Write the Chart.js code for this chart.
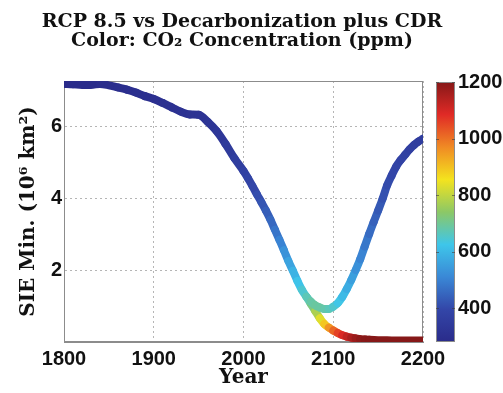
<!DOCTYPE html>
<html>
<head>
<meta charset="utf-8">
<script src="https://cdn.jsdelivr.net/npm/chart.js@4.4.1/dist/chart.umd.min.js"></script>
<style>
  html, body { margin: 0; padding: 0; background: #fff; }
  #wrap { position: relative; width: 503px; height: 393px; }
  #main { position: absolute; left: 0; top: 0; }
  #cbar { position: absolute; left: 430px; top: 62px; }
</style>
</head>
<body>
<div id="wrap">
  <canvas id="main" width="503" height="393"></canvas>
  <canvas id="cbar" width="73" height="300"></canvas>
</div>
<script>
// shared path (both scenarios identical until ~2070)
const yearsShared = [1800, 1810, 1820, 1830, 1840, 1850, 1860, 1870, 1880, 1890,
  1900, 1910, 1920, 1930, 1940, 1950, 1960, 1970, 1980, 1990,
  2000, 2005, 2010, 2015, 2020, 2025, 2030, 2035, 2040, 2045,
  2050, 2055, 2060, 2065, 2070];
const sieShared = [7.17, 7.16, 7.14, 7.14, 7.17, 7.13, 7.07, 7.01, 6.93, 6.83,
  6.75, 6.64, 6.52, 6.40, 6.32, 6.31, 6.12, 5.86, 5.50, 5.10,
  4.75, 4.55, 4.33, 4.10, 3.88, 3.65, 3.40, 3.12, 2.84, 2.55,
  2.25, 1.98, 1.70, 1.45, 1.26];
const co2Shared = [280, 283, 284, 285, 286, 288, 290, 292, 295, 297,
  300, 303, 306, 309, 311, 313, 317, 326, 339, 354,
  370, 380, 390, 401, 414, 428, 445, 465, 488, 515,
  545, 575, 605, 635, 660];

// decarbonization plus CDR branch
const yearsDecarb = [2075, 2080, 2085, 2090, 2095, 2100, 2105, 2110, 2115, 2120,
  2125, 2130, 2135, 2140, 2145, 2150, 2155, 2160, 2165, 2170,
  2175, 2180, 2185, 2190, 2195, 2200];
const sieDecarb = [1.12, 1.02, 0.96, 0.92, 0.92, 0.98, 1.08, 1.25, 1.47, 1.72,
  2.00, 2.30, 2.65, 3.00, 3.33, 3.65, 3.98, 4.35, 4.62, 4.87,
  5.05, 5.20, 5.35, 5.47, 5.57, 5.65];
const co2Decarb = [680, 690, 690, 685, 675, 660, 640, 615, 590, 565,
  540, 515, 490, 470, 450, 435, 420, 408, 398, 390,
  382, 375, 369, 364, 359, 355];

// RCP 8.5 branch
const yearsRcp = [2075, 2080, 2085, 2090, 2095, 2100, 2105, 2110, 2115, 2120,
  2125, 2130, 2135, 2140, 2150, 2160, 2170, 2180, 2190, 2200];
const sieRcp = [1.06, 0.86, 0.66, 0.50, 0.40, 0.32, 0.25, 0.19, 0.15, 0.12,
  0.10, 0.08, 0.07, 0.06, 0.05, 0.05, 0.04, 0.04, 0.04, 0.04];
const co2Rcp = [690, 745, 805, 860, 925, 990, 1035, 1075, 1110, 1140,
  1165, 1185, 1195, 1200, 1200, 1200, 1200, 1200, 1200, 1200];

const xTicks = [1800, 1900, 2000, 2100, 2200];
const yTicks = [2, 4, 6];
const cbarTicks = [400, 600, 800, 1000, 1200];

// colormap (jet-like, as printed)
const cmapPpm = [280, 395, 510, 625, 740, 855, 970, 1085, 1200];
const cmapColors = ['#2a2b8a', '#3346a8', '#3a88d6', '#3ec6ea', '#8cc866',
  '#f4e31e', '#f08a24', '#e02a26', '#861818'];

function hexRgb(h) {
  return [parseInt(h.slice(1, 3), 16), parseInt(h.slice(3, 5), 16), parseInt(h.slice(5, 7), 16)];
}
function colorFor(v) {
  if (v <= cmapPpm[0]) return cmapColors[0];
  for (let i = 1; i < cmapPpm.length; i++) {
    if (v <= cmapPpm[i]) {
      const t = (v - cmapPpm[i - 1]) / (cmapPpm[i] - cmapPpm[i - 1]);
      const a = hexRgb(cmapColors[i - 1]), b = hexRgb(cmapColors[i]);
      const c = a.map((x, k) => Math.round(x + (b[k] - x) * t));
      return 'rgb(' + c.join(',') + ')';
    }
  }
  return cmapColors[cmapColors.length - 1];
}

const toPts = (xs, ys) => xs.map((x, i) => ({ x: x, y: ys[i] }));
const lastIdx = yearsShared.length - 1;

const decarbPts = toPts(yearsShared, sieShared).concat(toPts(yearsDecarb, sieDecarb));
const decarbCo2 = co2Shared.concat(co2Decarb);
const rcpPts = [{ x: yearsShared[lastIdx], y: sieShared[lastIdx] }].concat(toPts(yearsRcp, sieRcp));
const rcpCo2 = [co2Shared[lastIdx]].concat(co2Rcp);

const segColor = co2 => ctx => colorFor((co2[ctx.p0DataIndex] + co2[ctx.p1DataIndex]) / 2);

const serif = 'DejaVu Serif, serif';
const sans = 'Liberation Sans, Arial, sans-serif';
const plain = v => String(v);

const boxPlugin = {
  id: 'box',
  beforeDatasetsDraw(chart) {
    const { ctx, chartArea: a } = chart;
    ctx.save();
    ctx.strokeStyle = '#8c8c8c';
    ctx.lineWidth = 1;
    ctx.strokeRect(a.left + 0.5, a.top + 0.5, a.width - 1, a.height - 1);
    ctx.restore();
  }
};

const lineStyle = {
  pointRadius: 0,
  borderWidth: 8,
  borderCapStyle: 'round',
  borderJoinStyle: 'round',
  cubicInterpolationMode: 'monotone',
  fill: false
};

new Chart(document.getElementById('main'), {
  type: 'line',
  data: {
    datasets: [
      Object.assign({ label: 'Decarbonization plus CDR', data: decarbPts,
        segment: { borderColor: segColor(decarbCo2) } }, lineStyle),
      Object.assign({ label: 'RCP 8.5', data: rcpPts,
        segment: { borderColor: segColor(rcpCo2) } }, lineStyle)
    ]
  },
  options: {
    responsive: false,
    animation: false,
    events: [],
    layout: { padding: { left: 0, right: 19, top: 0, bottom: 0 } },
    plugins: {
      legend: { display: false },
      tooltip: { enabled: false },
      title: {
        display: true,
        text: ['RCP 8.5 vs Decarbonization plus CDR', 'Color: CO\u2082 Concentration (ppm)'],
        color: '#111',
        font: { family: serif, weight: 'bold', size: 19, lineHeight: 1.0 },
        padding: { top: 13, bottom: 30 }
      }
    },
    scales: {
      x: {
        type: 'linear',
        min: 1800,
        max: 2200,
        afterBuildTicks: s => { s.ticks = xTicks.map(v => ({ value: v })); },
        afterFit: s => { s.height = 51; },
        ticks: { color: '#111', font: { family: sans, weight: 'bold', size: 20 }, padding: 5, maxRotation: 0, callback: plain },
        grid: { color: '#b5b5b5', drawTicks: false },
        border: { color: '#8c8c8c', dash: [2, 3] },
        title: { display: true, text: 'Year', color: '#111',
          font: { family: serif, weight: 'bold', size: 20 }, padding: { top: 0, bottom: 3 } }
      },
      y: {
        type: 'linear',
        min: 0,
        max: 7.25,
        afterBuildTicks: s => { s.ticks = yTicks.map(v => ({ value: v })); },
        afterFit: s => { s.width = 64; },
        ticks: { color: '#111', font: { family: sans, weight: 'bold', size: 20 }, padding: 2, callback: plain },
        grid: { color: '#b5b5b5', drawTicks: false },
        border: { color: '#8c8c8c', dash: [2, 3] },
        title: { display: true, text: 'SIE Min. (10\u2076 km\u00b2)', color: '#111',
          font: { family: serif, weight: 'bold', size: 20 }, padding: { top: 17, bottom: 0 } }
      },
      yR: {
        type: 'linear',
        position: 'right',
        display: true,
        afterFit: s => { s.width = 61; },
        ticks: { display: false },
        grid: { display: false },
        border: { display: false }
      }
    }
  },
  plugins: [boxPlugin]
});

// colour bar
const cbarMin = 280, cbarMax = 1200;
new Chart(document.getElementById('cbar'), {
  type: 'bar',
  data: {
    labels: [''],
    datasets: [{
      data: [[cbarMin, cbarMax]],
      borderWidth: 0,
      barPercentage: 1,
      categoryPercentage: 1,
      backgroundColor: ctx => {
        const ch = ctx.chart;
        if (!ch.chartArea) return '#000';
        const y = ch.scales.y;
        const g = ch.ctx.createLinearGradient(0, y.getPixelForValue(cbarMin), 0, y.getPixelForValue(cbarMax));
        cmapPpm.forEach((p, i) => g.addColorStop((p - cbarMin) / (cbarMax - cbarMin), cmapColors[i]));
        return g;
      }
    }]
  },
  options: {
    responsive: false,
    animation: false,
    events: [],
    layout: { padding: { left: 6, right: 0, top: 20, bottom: 20 } },
    plugins: { legend: { display: false }, tooltip: { enabled: false } },
    scales: {
      x: { display: false },
      y: {
        position: 'right',
        min: cbarMin,
        max: cbarMax,
        afterBuildTicks: s => { s.ticks = cbarTicks.map(v => ({ value: v })); },
        afterFit: s => { s.width = 48; },
        ticks: { color: '#111', font: { family: sans, weight: 'bold', size: 20 }, padding: 3, callback: plain },
        grid: { display: false, drawTicks: false },
        border: { display: false }
      }
    }
  },
  plugins: [{
    id: 'cbox',
    afterDatasetsDraw(chart) {
      const { ctx, chartArea: a } = chart;
      const y = chart.scales.y;
      ctx.save();
      ctx.strokeStyle = '#8c8c8c';
      ctx.lineWidth = 1;
      ctx.strokeRect(a.left + 0.5, a.top + 0.5, a.width - 1, a.height - 1);
      // small inward tick marks like the original colour bar
      ctx.strokeStyle = 'rgba(60,60,60,0.6)';
      cbarTicks.forEach(v => {
        const py = Math.round(y.getPixelForValue(v)) + 0.5;
        ctx.beginPath();
        ctx.moveTo(a.left, py); ctx.lineTo(a.left + 3, py);
        ctx.moveTo(a.right - 3, py); ctx.lineTo(a.right, py);
        ctx.stroke();
      });
      ctx.restore();
    }
  }]
});
</script>
</body>
</html>
